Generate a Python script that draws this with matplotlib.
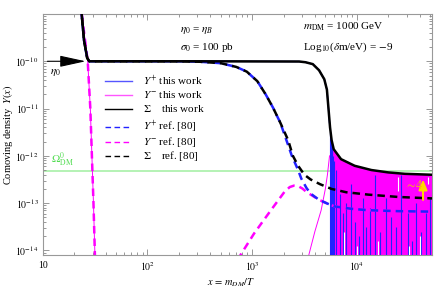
import numpy as np
import matplotlib
matplotlib.use("Agg")
import matplotlib.pyplot as plt
from matplotlib.lines import Line2D
from matplotlib.ticker import FixedLocator, FuncFormatter, LogLocator, NullFormatter

plt.rcParams['font.family'] = ['Liberation Serif', 'DejaVu Serif']
plt.rcParams['mathtext.fontset'] = 'stix'

# ---------------- data (log10 values) ----------------
# Sigma, this work (solid black)
sig_lx = [1.37, 1.395, 1.425, 1.445, 1.47, 2.5, 3.45, 3.51, 3.58, 3.64, 3.69, 3.715,
          3.73, 3.745, 3.76, 3.78, 3.85, 3.98, 4.14, 4.30, 4.46, 4.72]
sig_ly = [-8.95, -9.56, -9.93, -10.0, -10.0, -10.0, -10.005, -10.02, -10.06, -10.19, -10.38, -10.6,
          -11.0, -11.4, -11.67, -11.86, -12.07, -12.21, -12.30, -12.35, -12.38, -12.40]

# Y+ this work before oscillations (under the black solid)
yp_lx = [1.37, 1.395, 1.425, 1.445, 1.47, 2.5, 3.45, 3.51, 3.58, 3.64, 3.69, 3.715, 3.73, 3.74]
yp_ly = [-8.95, -9.56, -9.93, -10.0, -10.0, -10.0, -10.005, -10.02, -10.06, -10.19, -10.38, -10.6, -11.0, -11.3]

# Y- this work before oscillations (thin magenta)
ym_lx = [1.373, 1.43, 1.455, 1.47, 1.485, 1.50, np.nan, 3.53, 3.60, 3.66, 3.70, 3.72, 3.74]
ym_ly = [-9.0, -10.0, -11.0, -12.0, -13.0, -14.2, np.nan, -14.2, -13.6, -13.15, -12.7, -12.4, -12.0]

# Sigma, ref. [80] (dashed black)
sref_lx = [1.37, 1.395, 1.425, 1.445, 1.47, 2.3, 2.5, 2.7, 2.85, 2.95, 3.05, 3.13, 3.2, 3.27,
           3.345, 3.39, 3.44, 3.50, 3.56, 3.65, 3.76, 3.9, 4.11, 4.4, 4.72]
sref_ly = [-8.95, -9.56, -9.93, -10.0, -10.0, -10.0, -10.01, -10.04, -10.12, -10.22, -10.42, -10.7,
           -10.98, -11.3, -11.67, -12.0, -12.21, -12.40, -12.50, -12.60, -12.70, -12.77, -12.82, -12.87, -12.90]

# Y+ ref. [80] (dashed blue)
ypref_lx = [1.37, 1.395, 1.425, 1.445, 1.47, 2.3, 2.5, 2.7, 2.85, 2.95, 3.05, 3.13, 3.2, 3.27,
            3.33, 3.38, 3.44, 3.47, 3.52, 3.56, 3.64, 3.72, 3.79, 3.95, 4.11, 4.4, 4.72]
ypref_ly = [-8.95, -9.56, -9.93, -10.0, -10.0, -10.0, -10.01, -10.04, -10.12, -10.22, -10.42, -10.7,
            -10.98, -11.3, -11.68, -12.0, -12.3, -12.48, -12.68, -12.80, -12.93, -13.01, -13.07,
            -13.12, -13.15, -13.17, -13.18]

# Y- ref. [80] (dashed magenta)
ymref_lx = [1.373, 1.43, 1.455, 1.47, 1.485, 1.50, np.nan, 2.86, 3.02, 3.18, 3.31, 3.36, 3.40,
            3.44, 3.48, 3.53, 3.56, 3.64, 3.72, 3.79, 3.95, 4.11, 4.4, 4.72]
ymref_ly = [-9.0, -10.0, -11.0, -12.0, -13.0, -14.2, np.nan, -14.2, -13.64, -13.15, -12.76, -12.66,
            -12.63, -12.64, -12.69, -12.78, -12.82, -12.93, -13.01, -13.07, -13.12, -13.15, -13.17, -13.18]

# oscillation band (this work): Y+ spikes position / top
spike_lx = [3.745, 3.752, 3.76, 3.768, 3.776, 3.785, 3.80, 3.836, 3.87, 3.90, 3.947, 3.979, 4.02,
            4.059, 4.09, 4.123, 4.170, 4.22, 4.282, 4.33, 4.378, 4.426, 4.490, 4.53, 4.569,
            4.617, 4.66, 4.697]
spike_ly = [-11.5, -11.7, -11.8, -11.9, -12.0, -12.1, -12.3, -12.8, -13.2, -13.0, -12.6, -13.4,
            -13.7, -12.9, -13.5, -13.1, -12.4, -13.6, -12.9, -13.3, -13.5, -12.4, -13.2, -13.8,
            -13.0, -13.6, -13.2, -12.9]
# white gaps in band: position, top, bottom
gap_lx = [3.88, 4.00, 4.20, 4.39, 4.50, 4.60, 4.68]
gap_top = [-13.6, -13.9, -13.8, -12.45, -13.9, -13.7, -12.45]
gap_bot = [-14.2, -14.2, -14.2, -12.75, -14.2, -14.2, -12.6]

omega_dm = 4.7e-13
xmin, xmax = 10, 5.2e4
ymin, ymax = 8e-15, 1e-9

# ---------------- figure ----------------
W, H = 435, 288
fig = plt.figure(figsize=(W / 100, H / 100), dpi=100)
ax = fig.add_axes([42.7 / W, 1 - 255 / H, (431.7 - 42.7) / W, (255 - 14) / H])
ax.set_xscale('log')
ax.set_yscale('log')
ax.set_xlim(xmin, xmax)
ax.set_ylim(ymin, ymax)

P = lambda a: 10 ** np.asarray(a, dtype=float)

BLUE = '#2222ff'
MAG = '#ff00ff'

ax.axhline(omega_dm, color='#a8f0a8', lw=1.2, zorder=1)

# band
sx = P(sig_lx)
sy = P(sig_ly)
mask = np.asarray(sig_lx) >= 3.74
bx = np.concatenate([[10 ** 3.74], sx[mask]])
by = np.concatenate([[10 ** -11.3], sy[mask]])
ax.fill_between(bx, 1e-16, by, color=MAG, lw=0, zorder=2)
ax.vlines(P(spike_lx), 1e-16, P(spike_ly), color=BLUE, lw=0.8, zorder=3)
ax.vlines(P(gap_lx), P(gap_bot), P(gap_top), color='white', lw=0.8, zorder=3)

ax.plot(P(ym_lx), P(ym_ly), color=MAG, lw=0.7, zorder=3)
ax.plot(P(yp_lx), P(yp_ly), color=BLUE, lw=1.0, zorder=3)
ax.plot(P(ymref_lx), P(ymref_ly), color=MAG, lw=1.8, ls=(0, (3, 2)), zorder=4)
ax.plot(P(ypref_lx), P(ypref_ly), color=BLUE, lw=1.8, ls=(0, (3, 2)), zorder=5)
ax.plot(sx, sy, color='black', lw=1.8, zorder=6)
ax.plot(P(sref_lx), P(sref_ly), color='black', lw=1.8, ls=(2.5, (3, 2)), zorder=6)

# yellow arrow ~4
ax.annotate('', xy=(10 ** 4.633, 10 ** -12.44), xytext=(10 ** 4.633, 10 ** -12.99),
            arrowprops=dict(arrowstyle='-|>,head_length=0.6,head_width=0.25', color='#ffd700',
                            lw=1.5, mutation_scale=10), zorder=7)
ax.text(10 ** 4.545, 10 ** -12.62, r'$\sim\!4$', color='#f2b90c', fontsize=9,
        ha='center', va='center', zorder=7)

# eta0 arrow
ax.annotate('', xy=(10 ** 1.41, 1e-10), xytext=(10 ** 1.045, 1e-10),
            arrowprops=dict(arrowstyle='-|>,head_length=1.6,head_width=0.35', color='black',
                            lw=0.8, mutation_scale=10, shrinkA=0, shrinkB=0), zorder=7)
ax.text(10 ** 1.12, 10 ** -10.23, r'$\eta_0$', fontsize=8, ha='center', va='center')
ax.text(10 ** 1.075, 10 ** -12.09, r'$\Omega^0_{\rm DM}$', fontsize=8, color='#55dd55',
        ha='left', va='center')

# info texts (pixel positions)
def ftext(px, py, s, **kw):
    fig.text(px / W, 1 - py / H, s, fontsize=8, va='center', **kw)

ftext(180, 30, r'$\eta_0$ = $\eta_B$')
ftext(180, 47, r'$\sigma_0$ = 100 pb')
ftext(303, 27, r'$m_{\rm DM}$ = 1000 GeV')
ftext(303, 47, r'Log$_{10}$($\delta$m/eV) = $-$9')

# legend (manual)
leg = [(r'$Y^{+}$ this work', '#5555ff', '-', 81),
       (r'$Y^{-}$ this work', '#ff55ff', '-', 95),
       (r'$\Sigma$    this work', 'black', '-', 109),
       (r'$Y^{+}$ ref. [80]', BLUE, '--', 127),
       (r'$Y^{-}$ ref. [80]', MAG, '--', 142),
       (r'$\Sigma$    ref. [80]', 'black', '--', 156)]
for lab, c, ls, py in leg:
    fig.add_artist(Line2D([105 / W, 132 / W], [1 - py / H, 1 - py / H], color=c, lw=1.0,
                          ls=ls if ls == '-' else (0, (4, 2.5)), transform=fig.transFigure))
    ftext(143, py, lab)

# axes styling
ax.xaxis.set_major_locator(FixedLocator([10, 1e2, 1e3, 1e4]))
ax.xaxis.set_minor_locator(LogLocator(base=10, subs=np.arange(2, 10)))
ax.xaxis.set_major_formatter(FuncFormatter(lambda v, p: '10' if v == 10 else r'$10^{%d}$' % round(np.log10(v))))
ax.xaxis.set_minor_formatter(NullFormatter())
ax.yaxis.set_major_locator(FixedLocator([1e-14, 1e-13, 1e-12, 1e-11, 1e-10]))
ax.yaxis.set_minor_locator(LogLocator(base=10, subs=np.arange(2, 10)))
ax.yaxis.set_major_formatter(FuncFormatter(lambda v, p: r'$10^{%d}$' % round(np.log10(v))))
ax.yaxis.set_minor_formatter(NullFormatter())
ax.tick_params(which='both', direction='in', top=True, right=True, colors='#888888',
               labelcolor='black', labelsize=7, width=0.6)
ax.tick_params(which='major', length=4)
ax.tick_params(which='minor', length=2.5)
ax.tick_params(axis='x', pad=4)
ax.tick_params(axis='y', pad=3)
for s in ax.spines.values():
    s.set_color('#999999')
    s.set_linewidth(0.8)

ax.set_xlabel(r'$x\,=\,m_{DM}/T$', fontsize=7.5)
ax.xaxis.set_label_coords((231 - 42.7) / (431.7 - 42.7), -(283 - 255) / (255 - 14))
ax.xaxis.label.set_va('center')
ax.set_ylabel(r'Comoving density  $Y(x)$', fontsize=7.5)
ax.yaxis.set_label_coords(-(42.7 - 8) / (431.7 - 42.7), 0.5)
ax.yaxis.label.set_va('center')

fig.savefig('out.png', dpi=100)
